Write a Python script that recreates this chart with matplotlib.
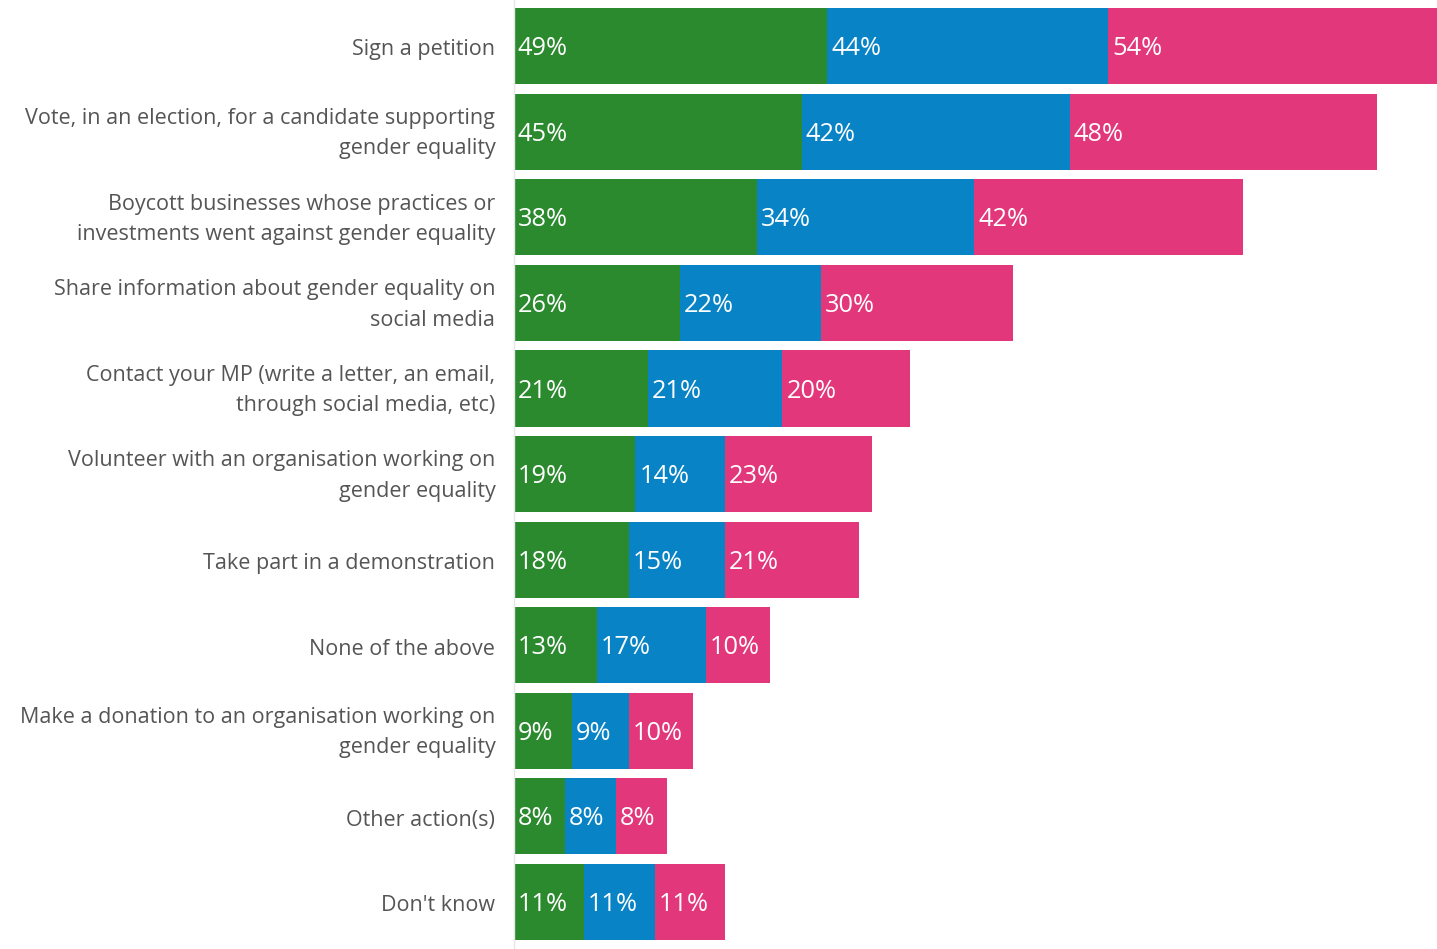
import numpy as np
import matplotlib.pyplot as plt

categories = [
    "Sign a petition",
    "Vote, in an election, for a candidate supporting\ngender equality",
    "Boycott businesses whose practices or\ninvestments went against gender equality",
    "Share information about gender equality on\nsocial media",
    "Contact your MP (write a letter, an email,\nthrough social media, etc)",
    "Volunteer with an organisation working on\ngender equality",
    "Take part in a demonstration",
    "None of the above",
    "Make a donation to an organisation working on\ngender equality",
    "Other action(s)",
    "Don't know",
]
green_vals = [49, 45, 38, 26, 21, 19, 18, 13, 9, 8, 11]
blue_vals = [44, 42, 34, 22, 21, 14, 15, 17, 9, 8, 11]
pink_vals = [54, 48, 42, 30, 20, 23, 21, 10, 10, 8, 11]

colors = ["#2b8a2e", "#0884c6", "#e3377c"]

plt.rcParams["font.family"] = ["Open Sans", "DejaVu Sans"]

fig = plt.figure(figsize=(14.37, 9.49), dpi=100)
ax = fig.add_axes([0.3577, 0, 0.6423, 1])

y = np.arange(len(categories))
left = np.zeros(len(categories))
for vals, col in zip([green_vals, blue_vals, pink_vals], colors):
    vals = np.array(vals, dtype=float)
    ax.barh(y, vals, left=left, height=0.89, color=col, edgecolor="none")
    for yi, l, v in zip(y, left, vals):
        ax.text(l + 0.6, yi + 0.03, f"{int(v)}%", color="white", fontsize=18.3,
                va="center", ha="left")
    left += vals

ax.set_xlim(0, 144.4)
ax.set_ylim(10.55, -0.54)
# two-line labels sit a bit higher than matplotlib centres them
offsets = [-0.06 if "\n" in c else 0.015 for c in categories]
ax.set_yticks(y + np.array(offsets))
ax.set_yticklabels(categories, fontsize=15.5, color="#555555", linespacing=1.58)
ax.tick_params(axis="y", length=0, pad=13.5)
ax.set_xticks([])
for s in ["top", "right", "bottom"]:
    ax.spines[s].set_visible(False)
ax.spines["left"].set_color("#e6e6e6")
ax.spines["left"].set_linewidth(1)

fig.savefig("out.png", dpi=100)
